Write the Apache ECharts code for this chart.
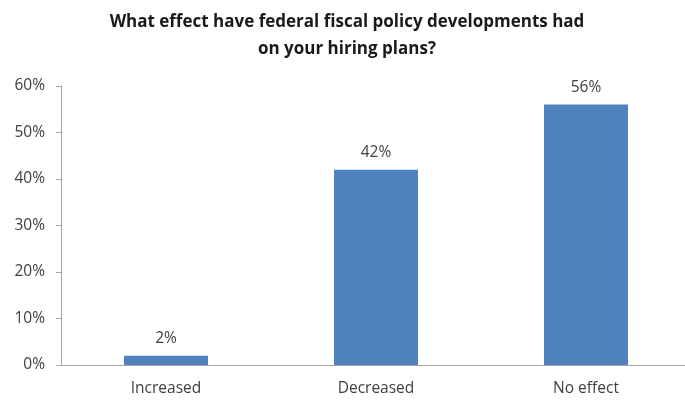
<!DOCTYPE html>
<html lang="en">
<head>
    <meta charset="UTF-8">
    <title>Federal fiscal policy and hiring plans</title>
    <script src="https://cdn.jsdelivr.net/npm/echarts@6.0.0/dist/echarts.min.js"></script>
    <style>
        html, body { margin: 0; padding: 0; background: #fff; overflow: hidden; }
        /* the source picture crops the plot at its right edge, so the canvas runs a little past the window */
        #chart { width: 700px; height: 402px; }
    </style>
</head>
<body>
<div id="chart"></div>
<script>
// data
const categories = ['Increased', 'Decreased', 'No effect'];
const shares = [2, 42, 56];
const yTicks = [0, 10, 20, 30, 40, 50, 60];

const chart = echarts.init(document.getElementById('chart'));
const font = '"Open Sans", "Liberation Sans", sans-serif';

chart.setOption({
    animation: false,
    title: {
        text: 'What effect have federal fiscal policy developments had\non your hiring plans?',
        left: 342,
        textAlign: 'center',
        top: 4,
        textStyle: {
            fontFamily: font,
            fontSize: 17,
            fontWeight: 'bold',
            color: '#1a1a1a',
            lineHeight: 27
        }
    },
    grid: { left: 61, top: 86, width: 630, height: 279 },
    xAxis: {
        type: 'category',
        data: categories,
        axisLine: { lineStyle: { color: '#a6a6a6' } },
        axisTick: { show: false },
        axisLabel: { fontFamily: font, fontSize: 15.5, color: '#404040', margin: 16 }
    },
    yAxis: {
        type: 'value',
        min: yTicks[0],
        max: yTicks[yTicks.length - 1],
        interval: 10,
        splitLine: { show: false },
        axisLine: { show: true, lineStyle: { color: '#a6a6a6' } },
        axisTick: { show: true, length: 5, lineStyle: { color: '#a6a6a6' } },
        axisLabel: { fontFamily: font, fontSize: 15.5, color: '#404040', margin: 16, formatter: '{value}%' }
    },
    series: [{
        type: 'bar',
        data: shares,
        barWidth: '40%',
        itemStyle: { color: '#4f81bd' },
        label: {
            show: true,
            position: 'top',
            distance: 9,
            formatter: '{c}%',
            fontFamily: font,
            fontSize: 15.5,
            color: '#404040'
        }
    }]
});
</script>
</body>
</html>
